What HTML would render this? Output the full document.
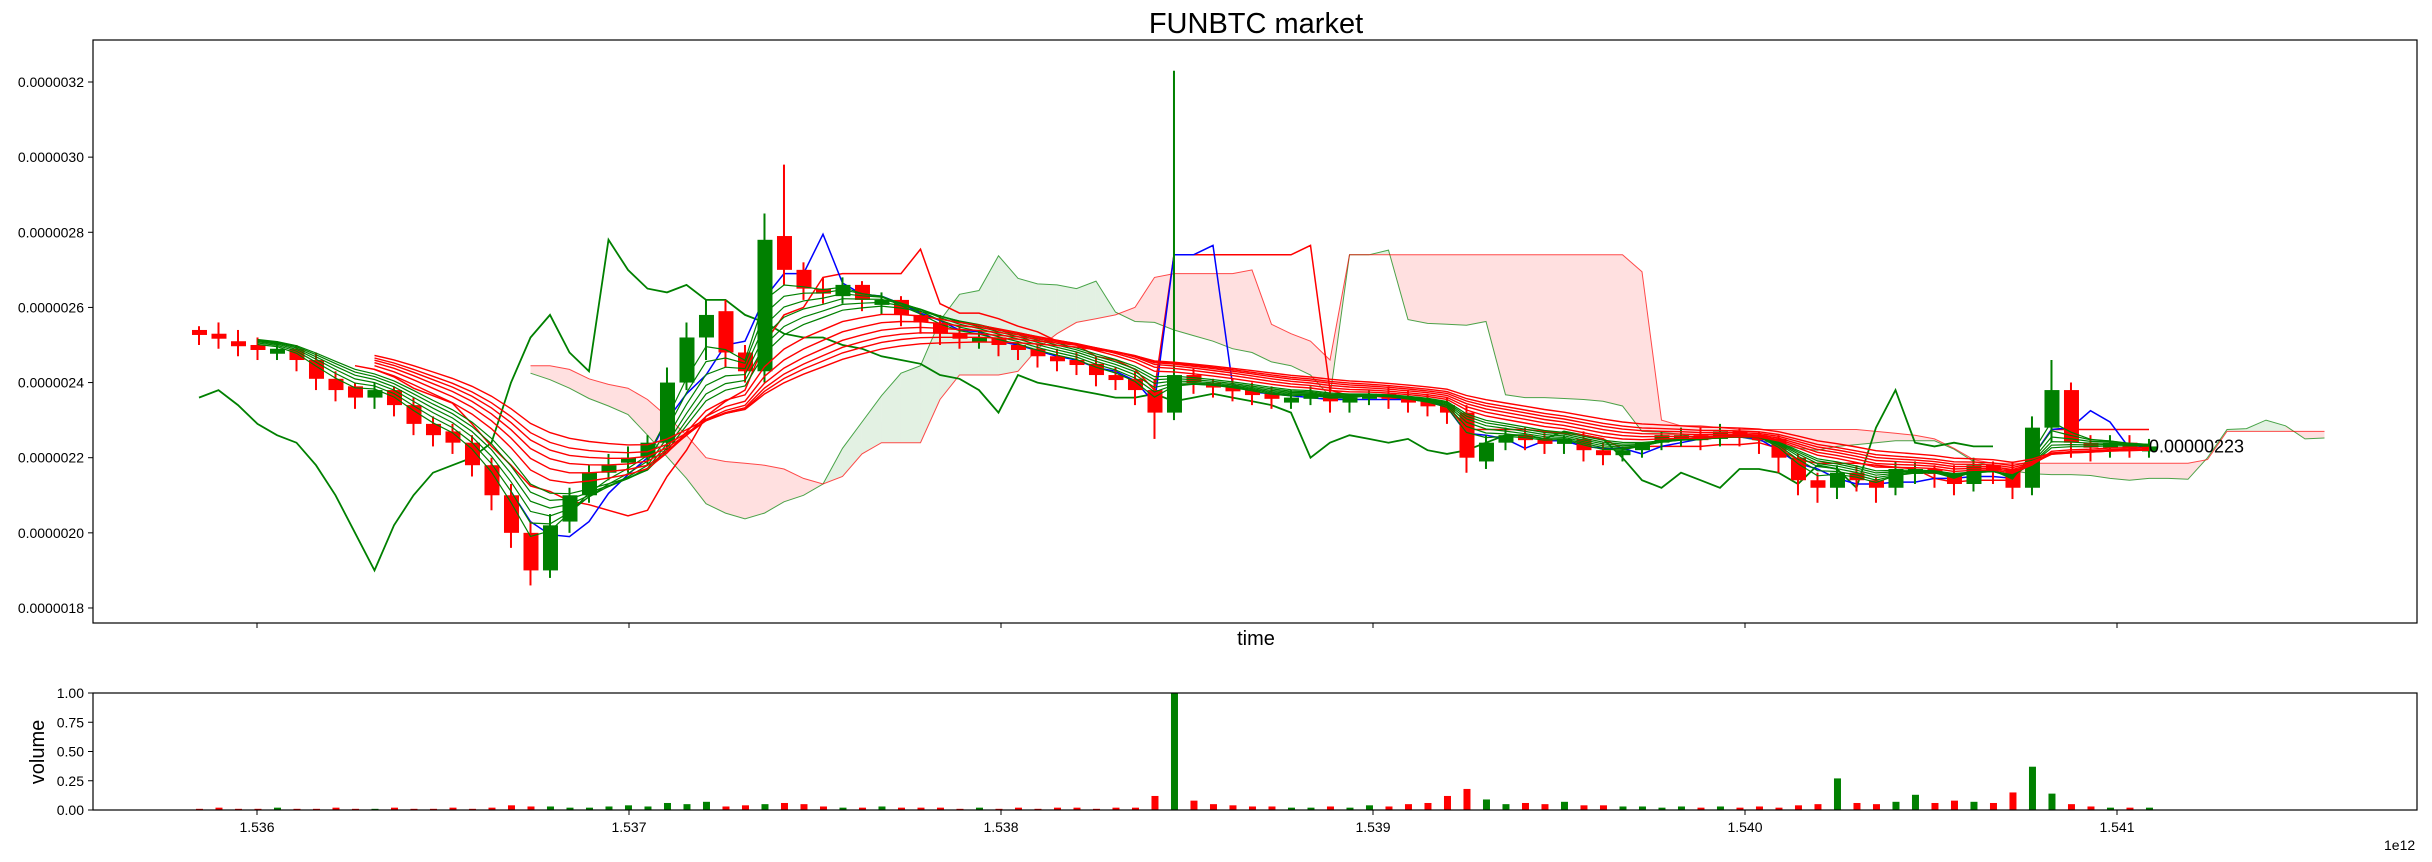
<!DOCTYPE html>
<html><head><meta charset="utf-8"><style>
body{margin:0;background:#fff;}
svg{display:block;font-family:"Liberation Sans","DejaVu Sans",sans-serif;}
</style></head><body>
<svg id="chart" width="2432" height="862" viewBox="0 0 2432 862">
<text x="1256" y="33" font-size="29" text-anchor="middle">FUNBTC market</text>
<g id="main"></g>
<g id="vol"></g>
<text x="1256" y="645" font-size="20" text-anchor="middle">time</text>
<text x="0" y="0" font-size="20" text-anchor="middle" transform="translate(44,752) rotate(-90)">volume</text>
<text x="2384" y="850" font-size="14">1e12</text>
</svg>
<script>
// price units: 1e-8 BTC
const startTime = 1535833300000;
const interval = 52419000;
const closes = [253,252,250,249,249,246,241,238,236,238,234,229,226,224,218,210,200,190,202,210,216,218,220,224,240,252,258,248,243,278,270,265,264,266,262,262,258,256,253,252,252,250,249,247,246,245,242,241,238,232,242,240,239,238,237,236,236,237,235,236,237,236,235,234,232,220,224,226,225,224,225,222,221,222,224,226,226,225,227,226,225,220,214,212,216,214,212,217,217,216,213,218,217,212,228,238,224,223,224,223,223];
const opens = [254,253,251,250,248,249,246,241,239,236,238,234,229,227,224,218,210,200,190,203,210,216,219,220,224,240,252,259,248,243,279,270,265,263,266,262,262,258,256,253,252,252,250,249,247,246,245,242,241,238,232,242,240,239,238,237,236,236,237,235,236,237,236,235,234,232,219,224,226,225,224,225,222,221,222,224,226,226,225,227,226,225,220,214,212,216,214,212,217,217,216,213,218,217,212,228,238,224,223,224,223];
const highs = [255,256,254,252,251,250,248,243,240,240,239,236,231,229,226,220,213,203,205,212,218,221,223,226,244,256,262,262,250,285,298,272,268,268,267,264,263,259,258,255,254,253,251,250,249,248,247,244,243,241,323,244,241,241,240,239,238,239,239,237,238,239,238,237,236,234,226,228,228,227,226,227,224,223,224,227,228,228,229,228,227,226,221,216,218,218,215,219,219,218,218,220,219,219,231,246,240,226,226,226,225];
const lows = [250,249,247,246,246,243,238,235,233,233,231,226,223,221,215,206,196,186,188,200,208,214,216,218,222,238,246,244,240,240,266,262,261,261,259,258,255,253,250,249,249,247,246,244,243,242,239,238,234,225,230,237,236,235,234,233,233,234,232,232,234,233,232,231,229,216,217,222,222,221,221,219,218,219,220,222,223,222,223,223,221,216,210,208,209,211,208,210,213,212,210,211,213,209,210,224,220,219,220,220,220];
const volumes = [0.01,0.02,0.01,0.01,0.02,0.01,0.01,0.02,0.01,0.01,0.02,0.01,0.01,0.02,0.01,0.02,0.04,0.03,0.03,0.02,0.02,0.03,0.04,0.03,0.06,0.05,0.07,0.03,0.04,0.05,0.06,0.05,0.03,0.02,0.02,0.03,0.02,0.02,0.02,0.01,0.02,0.01,0.02,0.01,0.02,0.02,0.01,0.02,0.02,0.12,1.0,0.08,0.05,0.04,0.03,0.03,0.02,0.02,0.03,0.02,0.04,0.03,0.05,0.06,0.12,0.18,0.09,0.05,0.06,0.05,0.07,0.04,0.04,0.03,0.03,0.02,0.03,0.02,0.03,0.02,0.03,0.02,0.04,0.05,0.27,0.06,0.05,0.07,0.13,0.06,0.08,0.07,0.06,0.15,0.37,0.14,0.05,0.03,0.02,0.02,0.02];
const yTicks = [180,200,220,240,260,280,300,320];
const yTickLabels = ["0.0000018","0.0000020","0.0000022","0.0000024","0.0000026","0.0000028","0.0000030","0.0000032"];
const xTicks = [1.536e12,1.537e12,1.538e12,1.539e12,1.540e12,1.541e12];
const xTickLabels = ["1.536","1.537","1.538","1.539","1.540","1.541"];
const vTicks = [0,0.25,0.5,0.75,1.0];
const vTickLabels = ["0.00","0.25","0.50","0.75","1.00"];
const lastLabel = "0.00000223";

const NS="http://www.w3.org/2000/svg";
const L=93,R=2417,T=40,B=623,VT=693,VB=810;
function X(t){return 257+(t-1.536e12)/1e9*372;}
function Y(p){return 82+(320-p)*3.757;}
function VY(v){return VB-v*(VB-VT);}
function tAt(i){return startTime+i*interval;}
const main=document.getElementById('main'), vol=document.getElementById('vol');
function mk(tag,attrs,parent){const e=document.createElementNS(NS,tag);for(const k in attrs)e.setAttribute(k,attrs[k]);parent.appendChild(e);return e;}
function pathOf(pts){return pts.map((p,i)=>(i?'L':'M')+p[0].toFixed(1)+','+p[1].toFixed(1)).join('');}
const n=closes.length;

// ichimoku
function mid(i,p){let h=-1e9,l=1e9;for(let k=Math.max(0,i-p+1);k<=i;k++){h=Math.max(h,highs[k]);l=Math.min(l,lows[k]);}return (h+l)/2;}
const shift=9, lag=8;
const tenkan=[],kijun=[],spanA=[],spanB=[];
for(let i=0;i<n;i++){tenkan.push(mid(i,3));kijun.push(mid(i,8));spanA.push((mid(i,3)+mid(i,8))/2);spanB.push(mid(i,16));}
for(let i=8;i<n-1;i++){
  const x1=X(tAt(i+shift))+4,x2=X(tAt(i+1+shift))+4;
  const a1=Y(spanA[i]),a2=Y(spanA[i+1]),b1=Y(spanB[i]),b2=Y(spanB[i+1]);
  const up=(spanA[i]+spanA[i+1])>=(spanB[i]+spanB[i+1]);
  const c=mk('path',{d:`M${x1},${a1}L${x2},${a2}L${x2},${b2}L${x1},${b1}Z`,fill:up?'rgba(0,128,0,0.11)':'rgba(255,0,0,0.12)',stroke:'none'},main);
  
  
}
const sa=mk('path',{d:pathOf(spanA.slice(8).map((v,k)=>[X(tAt(k+8+shift))+4,Y(v)])),fill:'none',stroke:'green','stroke-width':1,opacity:0.7},main);


const sb=mk('path',{d:pathOf(spanB.slice(8).map((v,k)=>[X(tAt(k+8+shift))+4,Y(v)])),fill:'none',stroke:'red','stroke-width':1,opacity:0.7},main);


const ch=mk('path',{d:pathOf(closes.slice(lag).map((v,k)=>[X(tAt(k))+4,Y(v)])),fill:'none',stroke:'green','stroke-width':1.8},main);


const kj=mk('path',{d:pathOf(kijun.slice(8).map((v,k)=>[X(tAt(k+8))+4,Y(v)])),fill:'none',stroke:'red','stroke-width':1.5},main);


const tk=mk('path',{d:pathOf(tenkan.slice(16).map((v,k)=>[X(tAt(k+16))+4,Y(v)])),fill:'none',stroke:'blue','stroke-width':1.5},main);



// candles
for(let i=0;i<n;i++){
  const x=X(tAt(i)),o=opens[i],c=closes[i],col=c>=o?'green':'red';
  const w=mk('line',{x1:x+4,x2:x+4,y1:Y(highs[i]),y2:Y(lows[i]),stroke:col,'stroke-width':2},main);
  
  
  const top=Y(Math.max(o,c)),bot=Y(Math.min(o,c));
  const b=mk('rect',{x:x-3,y:top,width:15,height:Math.max(bot-top,5),fill:col},main);
  
  
}
// EMAs
function ema(p){const out=[];let e=closes[0];const k=2/(p+1);for(let i=0;i<n;i++){e=i?closes[i]*k+e*(1-k):closes[i];out.push(e);}return out;}
[3,4,5,6,7,8].forEach(p=>{const e=ema(p);const l=mk('path',{d:pathOf(e.slice(3).map((v,k)=>[X(tAt(k+3))+4,Y(v)])),fill:'none',stroke:'green','stroke-width':1.2},main);
  
  });
[10,12,14,16,18,21].forEach(p=>{const e=ema(p);const l=mk('path',{d:pathOf(e.slice(9).map((v,k)=>[X(tAt(k+9))+4,Y(v)])),fill:'none',stroke:'red','stroke-width':1.4},main);
  
  });

const lt=mk('text',{x:X(tAt(n-1))+4,y:Y(closes[n-1])+6,'font-size':18},main);lt.textContent=lastLabel;



const f1=mk('rect',{x:L,y:T,width:R-L,height:B-T,fill:'none',stroke:'#000','stroke-width':1.2},main);


yTicks.forEach((v,i)=>{const y=Y(v);mk('line',{x1:L-5,x2:L,y1:y,y2:y,stroke:'#000'},main);
  const t=mk('text',{x:L-9,y:y+5,'font-size':14,'text-anchor':'end'},main);t.textContent=yTickLabels[i];
  
  });
xTicks.forEach(v=>{const x=X(v);mk('line',{x1:x,x2:x,y1:B,y2:B+5,stroke:'#000'},main);});

// volume
for(let i=0;i<n;i++){const x=X(tAt(i)),col=closes[i]>=opens[i]?'green':'red';
  const b=mk('rect',{x:x+1,y:VY(volumes[i]),width:7,height:VB-VY(volumes[i]),fill:col},vol);
  
  }
const f2=mk('rect',{x:L,y:VT,width:R-L,height:VB-VT,fill:'none',stroke:'#000','stroke-width':1.2},vol);


vTicks.forEach((v,i)=>{const y=VY(v);mk('line',{x1:L-5,x2:L,y1:y,y2:y,stroke:'#000'},vol);
  const t=mk('text',{x:L-9,y:y+5,'font-size':14,'text-anchor':'end'},vol);t.textContent=vTickLabels[i];
  
  });
xTicks.forEach((v,i)=>{const x=X(v);mk('line',{x1:x,x2:x,y1:VB,y2:VB+5,stroke:'#000'},vol);
  const t=mk('text',{x:x,y:VB+22,'font-size':14,'text-anchor':'middle'},vol);t.textContent=xTickLabels[i];
  
  });
</script>
</body></html>
